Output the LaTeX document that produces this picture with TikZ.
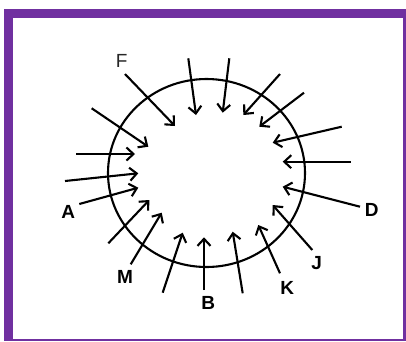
\documentclass[tikz,border=0pt]{standalone}
\usepackage{fontspec}
\setmainfont{Liberation Sans}
\usetikzlibrary{arrows.meta}
\definecolor{framepurple}{RGB}{112,48,160}
\tikzset{
  arr/.style={line width=2.1pt,-{Straight Barb[length=7pt,width=13pt,line width=2.1pt]}},
  lbl/.style={inner sep=0pt,font=\fontsize{19}{19}\selectfont\bfseries},
  lbllight/.style={inner sep=0pt,font=\fontsize{19}{19}\selectfont, text=black!85},
}
\begin{document}
\begin{tikzpicture}[x=1pt,y=-1pt]
\useasboundingbox (0,0) rectangle (406,341);
\fill[framepurple] (4,9) rectangle (406,341);
\fill[white] (12.7,17.5) rectangle (403.3,339.3);
\draw[line width=2.1pt] (206.5,173) ellipse [x radius=98.5pt, y radius=94pt];
% labels
\node[lbllight] (F) at (121.7,60.7) {F};
\node[lbl] (A) at (68.3,211.7) {A};
\node[lbl] (M) at (125,277.3) {M};
\node[lbl] (B) at (208.3,303.3) {B};
\node[lbl] (K) at (287.3,288.3) {K};
\node[lbl] (J) at (316.7,263.3) {J};
\node[lbl] (D) at (371.7,210) {D};
% arrows
\coordinate (t1) at (125,74);     \coordinate (h1) at (175,126);
\coordinate (t2) at (91.7,108.3); \coordinate (h2) at (148.3,146.7);
\coordinate (t3) at (76,154);     \coordinate (h3) at (135,154);
\coordinate (t4) at (65,181);     \coordinate (h4) at (138.3,173.3);
\coordinate (t5) at (79.3,204);   \coordinate (h5) at (138.3,187.7);
\coordinate (t6) at (108.3,243.3);\coordinate (h6) at (149.3,200);
\coordinate (t7) at (130.7,264.3);\coordinate (h7) at (161.7,212.7);
\coordinate (t8) at (162.7,292.7);\coordinate (h8) at (182.7,232.7);
\coordinate (t9) at (204,290);    \coordinate (h9) at (204,237.3);
\coordinate (t10) at (242.7,293.3);\coordinate (h10) at (232.7,231.7);
\coordinate (t11) at (280,273.3); \coordinate (h11) at (258.3,225);
\coordinate (t12) at (312.3,250); \coordinate (h12) at (272.7,205);
\coordinate (t13) at (360,206.7); \coordinate (h13) at (282.7,186.7);
\coordinate (t14) at (350.7,161.7);\coordinate (h14) at (282.7,161.7);
\coordinate (t15) at (341.7,126.7);\coordinate (h15) at (272.7,142.7);
\coordinate (t16) at (304,92.7);  \coordinate (h16) at (259.3,126.7);
\coordinate (t17) at (280,74);    \coordinate (h17) at (243.3,115);
\coordinate (t18) at (229.3,58.3);\coordinate (h18) at (222.7,112.7);
\coordinate (t19) at (188.3,58.3);\coordinate (h19) at (196,115);
\foreach \i in {1,...,19} {\draw[arr] (t\i) -- (h\i);}
\end{tikzpicture}
\end{document}
